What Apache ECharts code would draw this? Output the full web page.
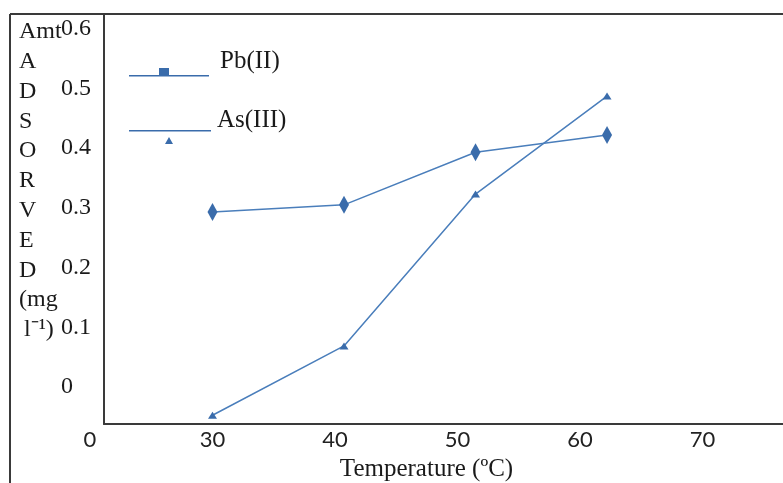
<!DOCTYPE html>
<html>
<head>
<meta charset="utf-8">
<script src="https://cdn.jsdelivr.net/npm/echarts@6.0.0/dist/echarts.min.js"></script>
<style>
html,body{margin:0;padding:0;background:#fff;}
#chart{width:783px;height:483px;}
</style>
</head>
<body>
<div id="chart"></div>
<script>
// ---- data ----
const temperatures = [30, 40, 50, 60];
const pbValues = [0.293, 0.305, 0.393, 0.422];
const asValues = [-0.047, 0.069, 0.323, 0.487];
const seriesNames = ['Pb(II)', 'As(III)'];
const xTickLabels = ['0', '30', '40', '50', '60', '70'];
const yTickValues = [0, 0.1, 0.2, 0.3, 0.4, 0.5, 0.6];
const yTitleLines = ['Amt', 'A', 'D', 'S', 'O', 'R', 'V', 'E', 'D', '(mg', 'l\u207B\u00B9)'];
const xTitle = 'Temperature (\u00BAC)';

const SERIF = '"Liberation Serif", "Times New Roman", serif';
const TEXT = '#1a1a1a';
const LINE = '#4a7ebb';
const MARK = '#3a6cab';
const FRAME = '#3a3a3a';

const chart = echarts.init(document.getElementById('chart'), null, {renderer: 'canvas'});

const titleGraphics = yTitleLines.map((t, i) => ({
  type: 'text',
  left: i === 10 ? 24 : 19,
  top: 33 + i * 29.8 - 13,
  style: {text: t, font: '24px ' + SERIF, fill: TEXT}
}));

const option = {
  backgroundColor: '#fff',
  animation: false,
  grid: [
    {left: 104, right: 0, top: 14, bottom: 59, outerBoundsMode: 'none', containLabel: false},
    {left: 90, right: 80.5, top: 14, bottom: 59, outerBoundsMode: 'none', containLabel: false}
  ],
  xAxis: [
    {
      type: 'value', gridIndex: 0, min: 21.75, max: 73.38,
      axisLine: {show: true, onZero: false, lineStyle: {color: FRAME, width: 2}},
      axisTick: {show: false}, axisLabel: {show: false}, splitLine: {show: false},
      name: xTitle, nameLocation: 'middle', nameGap: 33,
      nameTextStyle: {fontFamily: SERIF, fontSize: 25, color: TEXT, padding: [0, 34, 0, 0]}
    },
    {
      type: 'category', gridIndex: 1, boundaryGap: false, data: xTickLabels,
      axisLine: {show: false}, axisTick: {show: false}, splitLine: {show: false},
      axisLabel: {fontFamily: 'Lato, "Open Sans", sans-serif', fontSize: 22, color: '#222', margin: 5}
    }
  ],
  yAxis: [
    {
      type: 'value', gridIndex: 0, min: -0.0616, max: 0.6243,
      axisLine: {show: true, onZero: false, lineStyle: {color: FRAME, width: 2}},
      axisTick: {show: false}, splitLine: {show: false},
      axisLabel: {
        customValues: yTickValues,
        formatter: v => String(Math.round(v * 10) / 10),
        fontFamily: SERIF, fontSize: 24, color: TEXT, align: 'left', margin: 43
      }
    },
    {type: 'value', gridIndex: 1, show: false}
  ],
  legend: [
    {
      data: [{name: seriesNames[0], icon: 'path://M0,0 L0,0 Z M86,0 L86,0 Z M0,29.5 L80,29.5 L80,31 L0,31 Z M30,22.5 L40,22.5 L40,29.5 L30,29.5 Z'}],
      left: 129, top: 45.5, padding: 0, itemWidth: 86, itemHeight: 31,
      selectedMode: false,
      textStyle: {fontFamily: SERIF, fontSize: 25, color: TEXT}
    },
    {
      data: [{name: seriesNames[1], icon: 'path://M0,0 L0,0 Z M83,0 L83,0 Z M0,34 L82,34 L82,35.5 L0,35.5 Z M36,48 L40,41 L44,48 Z'}],
      left: 129, top: 96, padding: 0, itemWidth: 83, itemHeight: 48,
      selectedMode: false,
      textStyle: {fontFamily: SERIF, fontSize: 25, color: TEXT}
    }
  ],
  graphic: [
    {type: 'line', shape: {x1: 10, y1: 14, x2: 783, y2: 14}, style: {stroke: FRAME, lineWidth: 2}},
    {type: 'line', shape: {x1: 10, y1: 14, x2: 10, y2: 483}, style: {stroke: FRAME, lineWidth: 2}}
  ].concat(titleGraphics),
  series: [
    {
      name: seriesNames[0], type: 'line', xAxisIndex: 0, yAxisIndex: 0,
      data: temperatures.map((t, i) => [t, pbValues[i]]),
      symbol: 'diamond', symbolSize: [10, 18],
      lineStyle: {color: LINE, width: 1.5},
      itemStyle: {color: MARK}
    },
    {
      name: seriesNames[1], type: 'line', xAxisIndex: 0, yAxisIndex: 0,
      data: temperatures.map((t, i) => [t, asValues[i]]),
      symbol: 'triangle', symbolSize: [9, 7],
      lineStyle: {color: LINE, width: 1.5},
      itemStyle: {color: MARK}
    }
  ]
};
chart.setOption(option);
</script>
</body>
</html>
